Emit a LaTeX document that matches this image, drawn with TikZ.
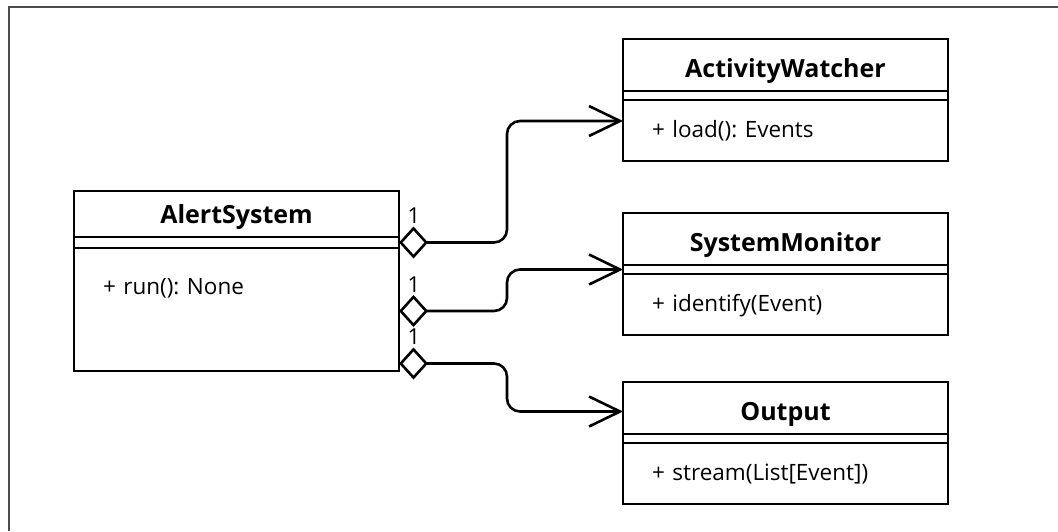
\documentclass[tikz,border=0pt]{standalone}
\usepackage{fontspec}
\setmainfont{Open Sans}
\frenchspacing
\usetikzlibrary{positioning,arrows.meta}

\begin{document}
\begin{tikzpicture}[x=1pt,y=-1pt,
    classname/.style ={draw, line width=2.6pt, outer sep=0pt, inner sep=0pt,
      minimum width=325pt, text depth=14pt, font=\bfseries\fontsize{25}{30}\selectfont},
    classattr/.style ={draw, line width=2.6pt, outer sep=0pt, inner sep=0pt,
      minimum width=325pt, minimum height=9pt},
    classops/.style ={draw, line width=2.6pt, outer sep=0pt, inner ysep=0pt,
      inner xsep=29pt, text width=267pt, align=left,
      font=\fontsize{22.5}{27}\selectfont},
    link/.style ={line width=2.6pt, rounded corners=13pt,
      {Diamond[open,length=29pt,width=32pt]}-{Straight Barb[length=31pt,width=30pt]}},
    mult/.style ={inner sep=0pt, anchor=south, xshift=15pt, yshift=17.5pt,
      font=\fontsize{22}{26}\selectfont}]
   \useasboundingbox (0,0) rectangle (1058,531);
   \draw[black!70, line width=2pt] (9,531) |- (1058,7);

   \node[classname, text height=32pt, anchor=north west] (alert) at (74,191) {AlertSystem};
   \node[classattr, below=0pt of alert, minimum height=11pt] (alertattr) {};
   \node[classops, below=0pt of alertattr, text height=46pt, text depth=77pt] (alertops) {+ run(): None};

   \node[classname, text height=38pt, anchor=north west] (watcher) at (623,39) {ActivityWatcher};
   \node[classattr, below=0pt of watcher] (watcherattr) {};
   \node[classops, below=0pt of watcherattr, text height=37pt, text depth=24pt] (watcherops) {+ load(): Events};

   \node[classname, text height=38pt, anchor=north west] (monitor) at (623,213) {SystemMonitor};
   \node[classattr, below=0pt of monitor] (monitorattr) {};
   \node[classops, below=0pt of monitorattr, text height=37pt, text depth=24pt] (monitorops) {+ identify(Event)};

   \node[classname, text height=38pt, anchor=north west] (output) at (623,382) {Output};
   \node[classattr, below=0pt of output] (outputattr) {};
   \node[classops, below=0pt of outputattr, text height=37pt, text depth=24pt] (outputops) {+ stream(List[Event])};

   \draw[link] (alertattr.east) node[mult] {1} -- ++(108,0) |- ([yshift=9.5pt]watcherops.west);
   \draw[link] ([yshift=-1.5pt]alertops.east) node[mult] {1} -- ++(108,0) |- (monitorattr.west);
   \draw[link] ([yshift=-54pt]alertops.east) node[mult] {1} -- ++(108,0) |- ([yshift=-3.5pt]output.west);
\end{tikzpicture}
\end{document}
